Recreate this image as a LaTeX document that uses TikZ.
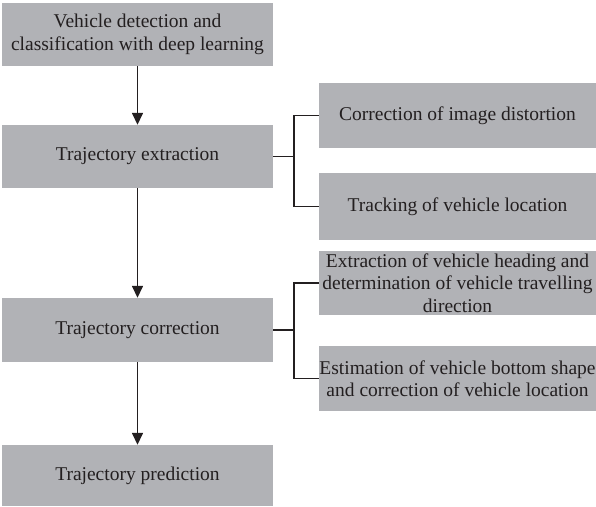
\documentclass[tikz,border=0pt]{standalone}
\usepackage{fontspec}
\setmainfont{Liberation Serif}
\usetikzlibrary{arrows.meta}
\definecolor{boxgray}{RGB}{177,178,182}
\definecolor{txt}{RGB}{35,31,32}
\definecolor{linec}{RGB}{35,31,32}
\begin{document}
\begin{tikzpicture}[x=1pt,y=-1pt,
  stepbox/.style={rectangle, fill=boxgray, inner sep=0pt, align=center,
    text=txt, font=\fontsize{19.5}{22.5}\selectfont},
  leftbox/.style={stepbox, minimum width=271pt, minimum height=63pt},
  rightbox/.style={stepbox, minimum width=277pt, minimum height=65pt},
  flow/.style={draw=linec, line width=1.5pt, -{Triangle[width=11pt,length=12pt]}},
  brace/.style={draw=linec, line width=1.1pt}]
\useasboundingbox (0,0) rectangle (596,506);
\node[leftbox] (b1) at (137.5,34.5) {Vehicle detection and\\classification with deep learning};
\node[leftbox] (b2) at (137.5,156.5) {Trajectory extraction};
\node[leftbox, minimum height=64pt] (b7) at (137.5,330) {Trajectory correction};
\node[leftbox, minimum height=61pt] (b8) at (137.5,475.5) {Trajectory prediction};
\node[rightbox] (b3) at (457.5,115.5) {Correction of image distortion};
\node[rightbox, minimum height=67pt] (b4) at (457.5,206.5) {Tracking of vehicle location};
\node[rightbox, minimum height=64pt] (b5) at (457.5,283) {Extraction of vehicle heading and\\determination of vehicle travelling\\direction};
\node[rightbox] (b6) at (457.5,378.5) {Estimation of vehicle bottom shape\\and correction of vehicle location};
\coordinate (bx) at (294,0);
\draw[flow] (b1.south) -- (b2.north);
\draw[flow] (b2.south) -- (b7.north);
\draw[flow] (b7.south) -- (b8.north);
\draw[brace] (b2.east) -- (b2.east -| bx);
\draw[brace] (b3.west) -- (b3.west -| bx) -- (b4.west -| bx) -- (b4.west);
\draw[brace] (b7.east) -- (b7.east -| bx);
\draw[brace] (b5.west) -- (b5.west -| bx) -- (b6.west -| bx) -- (b6.west);
\end{tikzpicture}
\end{document}
